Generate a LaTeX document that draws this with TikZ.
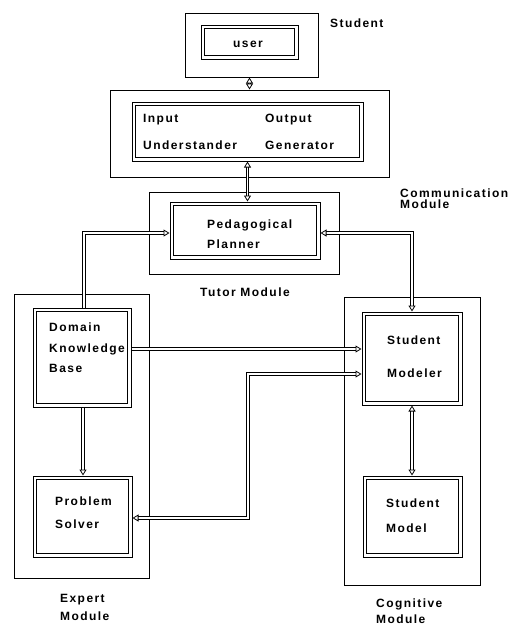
\documentclass[tikz,border=0pt]{standalone}
\usepackage{fontspec}
\setmainfont{Liberation Sans}
\newfontfamily\lblfont[LetterSpace=12]{Liberation Sans}
\usetikzlibrary{arrows.meta}
\begin{document}
\begin{tikzpicture}[x=1pt,y=-1pt,
  lbl/.style={font=\lblfont\bfseries\fontsize{12}{14}\selectfont, anchor=base west, inner sep=0pt},
  module/.style={draw, line width=1pt, inner sep=0pt},
  part/.style={draw, line width=1pt, inner sep=0pt},
  rim/.style={draw, line width=1pt},
  conn/.style={draw, double, double distance=1.8pt, line width=0.8pt},
  >={Triangle[open,length=6pt,width=7pt]}
]
\useasboundingbox (0,0) rectangle (527,627);

% module frames
\node[module, minimum width=133pt, minimum height=64pt] (studentmod) at (251.5,45) {};
\node[module, minimum width=279pt, minimum height=87pt] (comm) at (249.5,133.5) {};
\node[module, minimum width=190pt, minimum height=82pt] (tutor) at (244,233) {};
\node[module, minimum width=135pt, minimum height=284pt] (expert) at (81.5,436) {};
\node[module, minimum width=136pt, minimum height=288pt] (cognitive) at (412,441) {};

% component boxes (outer outline)
\node[part, minimum width=97pt, minimum height=34pt] (user) at (249.5,42) {};
\node[part, minimum width=231pt, minimum height=59pt] (io) at (247.5,131.5) {};
\node[part, minimum width=150pt, minimum height=57pt] (planner) at (245,230.5) {};
\node[part, minimum width=98pt, minimum height=99pt] (domain) at (82,357.5) {};
\node[part, minimum width=99pt, minimum height=81pt] (solver) at (82.5,516.5) {};
\node[part, minimum width=100pt, minimum height=93pt] (modeler) at (412,358.5) {};
\node[part, minimum width=99pt, minimum height=81pt] (model) at (412.5,516.5) {};

% inner outline of each component box
\foreach \b in {user,io,planner,domain,solver,modeler,model}
  \draw[rim] ([shift={(4pt,4pt)}]\b.south west) rectangle ([shift={(-4pt,-4pt)}]\b.north east);

% texts inside the boxes
\node[lbl] (tuser) at (233,47) {user};
\node[lbl] (tin1) at (143,122) {Input};
\node[lbl] (tin2) at (143,149) {Understander};
\node[lbl] (tout1) at (265,122) {Output};
\node[lbl] (tout2) at (265,149) {Generator};
\node[lbl] (tped1) at (207,228) {Pedagogical};
\node[lbl] (tped2) at (207,248) {Planner};
\node[lbl] (tdom1) at (49,331) {Domain};
\node[lbl] (tdom2) at (49,352) {Knowledge};
\node[lbl] (tdom3) at (49,372) {Base};
\node[lbl] (tsol1) at (55,505) {Problem};
\node[lbl] (tsol2) at (55,528) {Solver};
\node[lbl] (tsm1) at (387,344) {Student};
\node[lbl] (tsm2) at (387,377) {Modeler};
\node[lbl] (tmod1) at (386,507) {Student};
\node[lbl] (tmod2) at (386,532) {Model};

% module captions
\node[lbl] (cstud) at (330,27) {Student};
\node[lbl] (ccomm1) at (400,197) {Communication};
\node[lbl] (ccomm2) at (400,208) {Module};
\node[lbl] (ctutor) at (200,296) {Tutor Module};
\node[lbl] (cexp1) at (60,602) {Expert};
\node[lbl] (cexp2) at (60,620) {Module};
\node[lbl] (ccog1) at (376,607) {Cognitive};
\node[lbl] (ccog2) at (376,623) {Module};

% connectors
\draw[conn,<->] (studentmod.south -| comm.north) -- (comm.north);
\draw[conn,<->] (io.south) -- (io.south |- planner.north);
\draw[conn,->] ([xshift=2pt]domain.north) |- ([yshift=-2.5pt]planner.west);
\draw[conn,<->] ([yshift=-2.5pt]planner.east) -| (modeler.north);
\draw[conn,->] ([yshift=8.5pt]domain.east) -- ([yshift=8.5pt]domain.east -| modeler.west);
\coordinate (bend) at (248,374);
\draw[conn,<->] ([yshift=-1.5pt]solver.east) -| (bend) -- (bend -| modeler.west);
\draw[conn,->] ([xshift=1pt]domain.south) -- ([xshift=1pt]domain.south |- solver.north);
\draw[conn,<->] (modeler.south) -- (modeler.south |- model.north);
\end{tikzpicture}
\end{document}
